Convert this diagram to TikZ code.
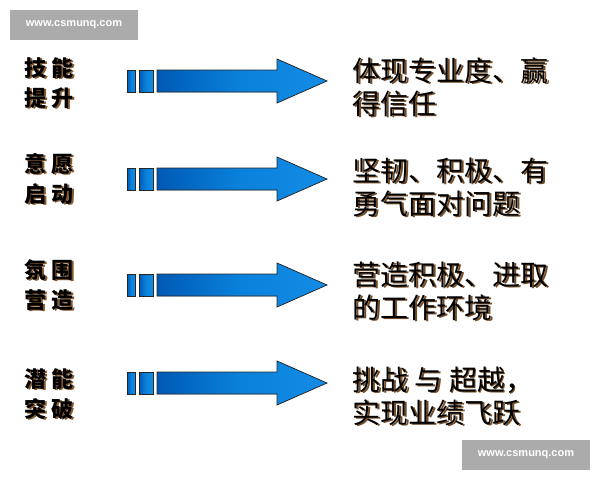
\documentclass[tikz,border=0pt]{standalone}
\usepackage{fontspec}
\newfontfamily\cjk{Noto Sans CJK SC}
\setsansfont{Liberation Sans}
\definecolor{ab1}{RGB}{0,90,180}
\definecolor{ab2}{RGB}{10,130,220}
\definecolor{ab3}{RGB}{20,140,230}
\tikzset{
 arr/.style={draw=black!85,line width=0.7pt,left color=ab1,right color=ab3,middle color=ab2},
 lt/.style={font=\cjk\bfseries\fontsize{22}{30}\selectfont,align=left,anchor=west,text=black},
 ls/.style={lt,text=brown!70!black},
 rt/.style={font=\cjk\fontsize{28}{33}\selectfont,align=left,anchor=west,text=black},
 rs/.style={rt,text=brown!60!black},
 wm/.style={fill=black!33,text=white,font=\sffamily\bfseries\fontsize{11}{13}\selectfont,minimum width=128pt,minimum height=30pt,inner sep=0pt}
}
\begin{document}
\begin{tikzpicture}[x=1pt,y=-1pt]
\useasboundingbox (0,0) rectangle (600,480);
\fill[white] (0,0) rectangle (600,480);
\node[wm] (w1) at (74,25) {www.csmunq.com};
\node[wm] (w2) at (526,455) {www.csmunq.com};
\foreach \y/\ly/\ry/\a/\b/\c/\d in {81/83/87/技\ 能/提\ 升/体现专业度、赢/得信任, 179/179/187/意\ 愿/启\ 动/坚韧、积极、有/勇气面对问题, 285/285/291/氛\ 围/营\ 造/营造积极、进取/的工作环境, 383/394/396/潜\ 能/突\ 破/挑战 与 超越，/实现业绩飞跃}{
 \fill[arr] (127,\y-11) rectangle (135,\y+11);
 \fill[arr] (139,\y-11) rectangle (153,\y+11);
 \filldraw[arr] (157,\y-11) -- (277,\y-11) -- (277,\y-22) -- (327,\y) -- (277,\y+22) -- (277,\y+11) -- (157,\y+11) -- cycle;
 \node[ls] (ls\y) at (22.5,\ly+1.5) {\a\\\b};
 \node[lt] (l\y) at (21,\ly) {\a\\\b};
 \node[rs] (rs\y) at (350.5,\ry+1.5) {\c\\\d};
 \node[rt] (r\y) at (349,\ry) {\c\\\d};
}
\end{tikzpicture}
\end{document}
